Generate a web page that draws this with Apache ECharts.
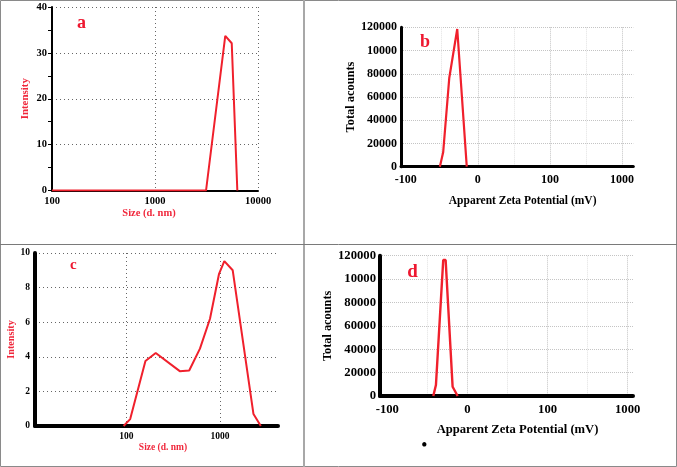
<!DOCTYPE html>
<html><head><meta charset="utf-8">
<script src="https://cdn.jsdelivr.net/npm/echarts@6/dist/echarts.min.js"></script>
<style>html,body{margin:0;padding:0;background:#fff}#c{width:677px;height:467px}</style>
</head><body><div id="c"></div>
<script>
// ---- Panel a : size distribution (log x) ----
const sizeA = [100, 3130, 4810, 5560, 6300];
const intensityA = [0, 0, 33.7, 32.1, 0];
const sizeTickValuesA = [100, 1000, 10000];
const sizeTickLabelsA = ['100', '1000', '10000'];
const intensityTickLabelsA = ['0', '10', '20', '30', '40'];

// ---- Panel b : zeta potential ----
const zetaB = [-52.6, -48, -39.6, -28.5, -15.3];
const countsB = [0, 12400, 76100, 118500, 0];

// ---- Panel c : size distribution (log x) ----
const sizeC = [93.5, 110, 160, 206, 372, 469, 611, 782, 977, 1112, 1367, 2277, 2727];
const intensityC = [0, 0.40, 3.76, 4.22, 3.17, 3.21, 4.47, 6.2, 8.8, 9.53, 9.0, 0.69, 0];
const sizeTickValuesC = [100, 1000];
const sizeTickLabelsC = ['100', '1000'];
const intensityTickLabelsC = ['0', '2', '4', '6', '8', '10'];

// ---- Panel d : zeta potential ----
const zetaD = [-42.6, -39.3, -30.2, -27.2, -18.5, -12.2];
const countsD = [0, 9400, 116300, 116300, 7950, 0];

// shared zeta / counts tick labels (as printed)
const zetaTickValues = [-100, 0, 100, 200];
const zetaTickLabels = ['-100', '0', '100', '1000'];
const countTickLabels = ['0', '20000', '40000', '60000', '80000', '10000', '120000'];

const RED = '#f0202c';
const TXT_RED = '#f0283c';
const SERIF = '"Liberation Serif", "Times New Roman", serif';

function zip(xs, ys) { return xs.map((x, i) => [x, ys[i]]); }
function logLabel(vals, labels) {
  return function (v) {
    for (let i = 0; i < vals.length; i++) {
      if (Math.abs(Math.log10(v) - Math.log10(vals[i])) < 1e-6) return labels[i];
    }
    return '';
  };
}
function zetaLabel(v) {
  for (let i = 0; i < zetaTickValues.length; i++) {
    if (Math.abs(v - zetaTickValues[i]) < 1e-6) return zetaTickLabels[i];
  }
  return '';
}
function countLabel(v) {
  const i = Math.round(v / 20000);
  return Math.abs(v - i * 20000) < 1e-6 ? countTickLabels[i] : '';
}
function lbl(size) {
  return { color: '#000', fontFamily: SERIF, fontWeight: 'bold', fontSize: size };
}
const dotGridDark = { show: true, showMinLine: false, lineStyle: { type: [1, 3], color: '#666', width: 1 } };
const zetaSplit = {
  show: true, showMinLine: false, showMaxLine: false,
  lineStyle: { type: [1, 1], width: 1,
    color: ['rgba(0,0,0,0)', '#e2e2e2', '#c4c4c4', '#e2e2e2', '#c4c4c4', '#e2e2e2', '#c4c4c4'] }
};

const chart = echarts.init(document.getElementById('c'), null, { renderer: 'canvas' });
chart.setOption({
  backgroundColor: '#fff',
  animation: false,
  grid: [
    { left: 52, top: 7, width: 206, height: 183.5 },
    { left: 401, top: 27.3, width: 232.3, height: 139.4 },
    { left: 35, top: 253, width: 243, height: 173 },
    { left: 380, top: 255.7, width: 253, height: 140.3 }
  ],
  xAxis: [
    { gridIndex: 0, type: 'log', logBase: 10, min: 100, max: 10000,
      axisLine: { show: true, onZero: false, lineStyle: { color: '#000', width: 2 } },
      axisTick: { show: false },
      axisLabel: Object.assign(lbl(10.5), { margin: 5, formatter: logLabel(sizeTickValuesA, sizeTickLabelsA) }),
      splitLine: dotGridDark,
      name: 'Size (d. nm)', nameLocation: 'middle', nameGap: 17,
      nameTextStyle: { color: TXT_RED, fontFamily: SERIF, fontWeight: 'bold', fontSize: 10.5, padding: [0, 12, 0, 0] } },
    { gridIndex: 1, type: 'value', min: -106.5, max: 215.7, splitNumber: 6,
      axisLine: { show: true, onZero: false, lineStyle: { color: '#000', width: 3 } },
      axisTick: { show: false },
      axisLabel: Object.assign(lbl(12), { margin: 7, formatter: zetaLabel }),
      splitLine: zetaSplit,
      name: 'Apparent Zeta Potential (mV)', nameLocation: 'middle', nameGap: 28.5,
      nameTextStyle: { color: '#000', fontFamily: SERIF, fontWeight: 'bold', fontSize: 11.5, padding: [0, 0, 0, 11] } },
    { gridIndex: 2, type: 'log', logBase: 10, min: 10.6, max: 4160,
      axisLine: { show: true, onZero: false, lineStyle: { color: '#000', width: 4 } },
      axisTick: { show: false },
      axisLabel: Object.assign(lbl(9.5), { margin: 6, formatter: logLabel(sizeTickValuesC, sizeTickLabelsC) }),
      splitLine: { show: true, showMinLine: false, showMaxLine: false, lineStyle: { type: [1, 3], color: '#666', width: 1 } },
      name: 'Size (d. nm)', nameLocation: 'middle', nameGap: 14,
      nameTextStyle: { color: TXT_RED, fontFamily: SERIF, fontWeight: 'bold', fontSize: 9.5, padding: [0, 0, 0, 13] } },
    { gridIndex: 3, type: 'value', min: -109.1, max: 206.6, splitNumber: 6,
      axisLine: { show: true, onZero: false, lineStyle: { color: '#000', width: 4 } },
      axisTick: { show: false },
      axisLabel: Object.assign(lbl(12.7), { margin: 7, formatter: zetaLabel }),
      splitLine: zetaSplit,
      name: 'Apparent Zeta Potential (mV)', nameLocation: 'middle', nameGap: 27.7,
      nameTextStyle: { color: '#000', fontFamily: SERIF, fontWeight: 'bold', fontSize: 12.6, padding: [0, 0, 0, 22] } }
  ],
  yAxis: [
    { gridIndex: 0, type: 'value', min: 0, max: 40, interval: 10,
      axisLine: { show: true, onZero: false, lineStyle: { color: '#000', width: 2 } },
      axisTick: { show: true, length: 4, lineStyle: { color: '#000' } },
      minorTick: { show: true, splitNumber: 2, length: 4, lineStyle: { color: '#000' } },
      axisLabel: Object.assign(lbl(10.5), { margin: 5, formatter: v => intensityTickLabelsA[Math.round(v / 10)] }),
      splitLine: dotGridDark,
      name: 'Intensity', nameLocation: 'middle', nameGap: 21,
      nameTextStyle: { color: TXT_RED, fontFamily: SERIF, fontWeight: 'bold', fontSize: 10.9 } },
    { gridIndex: 1, type: 'value', min: 0, max: 120000, interval: 20000,
      axisLine: { show: true, onZero: false, lineStyle: { color: '#000', width: 3 } },
      axisTick: { show: false },
      axisLabel: Object.assign(lbl(12), { margin: 4, formatter: countLabel }),
      splitLine: { show: true, showMinLine: false, lineStyle: { type: [1, 1], color: '#c4c4c4', width: 1 } },
      name: 'Total acounts', nameLocation: 'middle', nameGap: 41,
      nameTextStyle: { color: '#000', fontFamily: SERIF, fontWeight: 'bold', fontSize: 12.4 } },
    { gridIndex: 2, type: 'value', min: 0, max: 10, interval: 2,
      axisLine: { show: true, onZero: false, lineStyle: { color: '#000', width: 4 } },
      axisTick: { show: false },
      axisLabel: Object.assign(lbl(9.5), { margin: 5, formatter: v => intensityTickLabelsC[Math.round(v / 2)] }),
      splitLine: { show: true, showMinLine: false, lineStyle: { type: [1, 3], color: '#666', width: 1 } },
      name: 'Intensity', nameLocation: 'middle', nameGap: 15,
      nameTextStyle: { color: TXT_RED, fontFamily: SERIF, fontWeight: 'bold', fontSize: 10.2 } },
    { gridIndex: 3, type: 'value', min: 0, max: 120000, interval: 20000,
      axisLine: { show: true, onZero: false, lineStyle: { color: '#000', width: 4 } },
      axisTick: { show: false },
      axisLabel: Object.assign(lbl(12.7), { margin: 4, formatter: countLabel }),
      splitLine: { show: true, showMinLine: false, lineStyle: { type: [1, 1], color: '#c4c4c4', width: 1 } },
      name: 'Total acounts', nameLocation: 'middle', nameGap: 43,
      nameTextStyle: { color: '#000', fontFamily: SERIF, fontWeight: 'bold', fontSize: 12.3 } }
  ],
  series: [
    { type: 'line', xAxisIndex: 0, yAxisIndex: 0, data: zip(sizeA, intensityA), showSymbol: false,
      lineStyle: { color: RED, width: 2 }, z: 5 },
    { type: 'line', xAxisIndex: 1, yAxisIndex: 1, data: zip(zetaB, countsB), showSymbol: false,
      lineStyle: { color: RED, width: 2.2 }, z: 5 },
    { type: 'line', xAxisIndex: 2, yAxisIndex: 2, data: zip(sizeC, intensityC), showSymbol: false,
      lineStyle: { color: RED, width: 2 }, z: 5 },
    { type: 'line', xAxisIndex: 3, yAxisIndex: 3, data: zip(zetaD, countsD), showSymbol: false,
      lineStyle: { color: RED, width: 2.4 }, z: 5 }
  ],
  graphic: [
    { type: 'rect', shape: { x: 0.5, y: 0.5, width: 676, height: 466 }, style: { fill: 'none', stroke: '#8a8a8a', lineWidth: 1 }, silent: true },
    { type: 'line', shape: { x1: 304, y1: 0, x2: 304, y2: 467 }, style: { stroke: '#a8a8a8', lineWidth: 2 }, silent: true },
    { type: 'line', shape: { x1: 0, y1: 244.5, x2: 677, y2: 244.5 }, style: { stroke: '#7a7a7a', lineWidth: 1 }, silent: true },
    { type: 'text', x: 81.5, y: 23, style: { text: 'a', fill: '#ee1830', font: 'bold 18px ' + SERIF, align: 'center', verticalAlign: 'middle' }, z: 10 },
    { type: 'text', x: 425, y: 42.5, style: { text: 'b', fill: '#ee1830', font: 'bold 18px ' + SERIF, align: 'center', verticalAlign: 'middle' }, z: 10 },
    { type: 'text', x: 73.3, y: 265.5, style: { text: 'c', fill: '#ee1830', font: 'bold 15px ' + SERIF, align: 'center', verticalAlign: 'middle' }, z: 10 },
    { type: 'text', x: 412.5, y: 272, style: { text: 'd', fill: '#ee1830', font: 'bold 19px ' + SERIF, align: 'center', verticalAlign: 'middle' }, z: 10 },
    { type: 'text', x: 424.3, y: 446, style: { text: '•', fill: '#000', font: 'bold 16px ' + SERIF, align: 'center', verticalAlign: 'middle' }, z: 10 }
  ]
});
</script>
</body></html>
